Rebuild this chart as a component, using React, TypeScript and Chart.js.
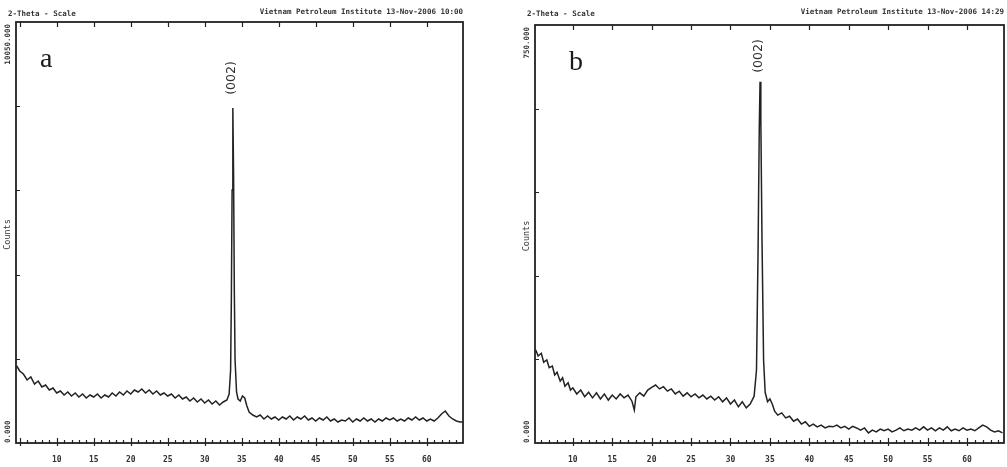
import React, { useEffect, useRef } from "react";
import { Chart, registerables } from "chart.js";
Chart.register(...registerables);

// ---- Panel a data (2-Theta in degrees, intensity in counts) ----
const thetaA = [4.6, 5.0, 5.5, 6.0, 6.5, 7.0, 7.5, 8.0, 8.5, 9.0, 9.5, 10.0, 10.5, 11.0, 11.5, 12.0, 12.5, 13.0, 13.5, 14.0, 14.5, 15.0, 15.5, 16.0, 16.5, 17.0, 17.5, 18.0, 18.5, 19.0, 19.5, 20.0, 20.5, 21.0, 21.5, 22.0, 22.5, 23.0, 23.5, 24.0, 24.5, 25.0, 25.5, 26.0, 26.5, 27.0, 27.5, 28.0, 28.5, 29.0, 29.5, 30.0, 30.5, 31.0, 31.5, 32.0, 32.5, 33.0, 33.3, 33.5, 33.6, 33.7, 33.8, 33.9, 34.0, 34.1, 34.3, 34.5, 34.8, 35.1, 35.4, 35.7, 36.0, 36.5, 37.0, 37.5, 38.0, 38.5, 39.0, 39.5, 40.0, 40.5, 41.0, 41.5, 42.0, 42.5, 43.0, 43.5, 44.0, 44.5, 45.0, 45.5, 46.0, 46.5, 47.0, 47.5, 48.0, 48.5, 49.0, 49.5, 50.0, 50.5, 51.0, 51.5, 52.0, 52.5, 53.0, 53.5, 54.0, 54.5, 55.0, 55.5, 56.0, 56.5, 57.0, 57.5, 58.0, 58.5, 59.0, 59.5, 60.0, 60.5, 61.0, 61.5, 62.0, 62.5, 63.0, 63.5, 64.0, 64.5, 64.9];
const countsA = [1838, 1719, 1647, 1504, 1575, 1408, 1480, 1337, 1384, 1265, 1313, 1194, 1241, 1146, 1217, 1122, 1194, 1098, 1170, 1074, 1146, 1098, 1170, 1074, 1146, 1098, 1194, 1122, 1217, 1146, 1241, 1170, 1265, 1217, 1289, 1194, 1265, 1170, 1241, 1146, 1194, 1122, 1170, 1074, 1146, 1050, 1098, 1003, 1074, 979, 1050, 955, 1026, 931, 1003, 907, 979, 1026, 1170, 1743, 3413, 6039, 7996, 6397, 3652, 1981, 1217, 1050, 1003, 1122, 1074, 883, 740, 668, 621, 668, 573, 644, 573, 621, 549, 621, 573, 644, 549, 621, 573, 644, 549, 597, 525, 597, 549, 621, 525, 573, 501, 549, 525, 597, 501, 573, 525, 597, 525, 573, 501, 573, 525, 597, 549, 597, 525, 573, 525, 597, 549, 621, 549, 597, 525, 573, 525, 597, 692, 764, 644, 573, 525, 501, 501];

// ---- Panel b data ----
const thetaB = [5.3, 5.6, 6.0, 6.3, 6.7, 7.0, 7.4, 7.7, 8.0, 8.4, 8.7, 9.0, 9.4, 9.7, 10.0, 10.5, 11.0, 11.5, 12.0, 12.5, 13.0, 13.5, 14.0, 14.5, 15.0, 15.5, 16.0, 16.5, 17.0, 17.5, 17.8, 18.0, 18.5, 19.0, 19.5, 20.0, 20.5, 21.0, 21.5, 22.0, 22.5, 23.0, 23.5, 24.0, 24.5, 25.0, 25.5, 26.0, 26.5, 27.0, 27.5, 28.0, 28.5, 29.0, 29.5, 30.0, 30.5, 31.0, 31.5, 32.0, 32.5, 33.0, 33.3, 33.5, 33.65, 33.75, 33.85, 34.0, 34.2, 34.4, 34.7, 35.0, 35.3, 35.6, 36.0, 36.5, 37.0, 37.5, 38.0, 38.5, 39.0, 39.5, 40.0, 40.5, 41.0, 41.5, 42.0, 42.5, 43.0, 43.5, 44.0, 44.5, 45.0, 45.5, 46.0, 46.5, 47.0, 47.5, 48.0, 48.5, 49.0, 49.5, 50.0, 50.5, 51.0, 51.5, 52.0, 52.5, 53.0, 53.5, 54.0, 54.5, 55.0, 55.5, 56.0, 56.5, 57.0, 57.5, 58.0, 58.5, 59.0, 59.5, 60.0, 60.5, 61.0, 61.5, 62.0, 62.5, 63.0, 63.5, 64.0, 64.5];
const countsB = [167, 156, 161, 145, 149, 135, 138, 122, 127, 111, 117, 102, 108, 95, 99, 88, 95, 83, 91, 81, 90, 79, 88, 77, 86, 79, 88, 81, 86, 75, 59, 83, 90, 84, 95, 100, 104, 97, 101, 93, 97, 88, 93, 84, 90, 83, 88, 81, 86, 79, 84, 77, 83, 74, 81, 70, 77, 65, 74, 63, 70, 84, 131, 346, 562, 648, 579, 364, 149, 91, 74, 79, 70, 57, 50, 54, 45, 48, 39, 43, 34, 38, 30, 34, 29, 32, 27, 30, 29, 32, 27, 30, 25, 30, 27, 23, 27, 18, 23, 20, 25, 22, 25, 20, 23, 27, 22, 25, 23, 27, 23, 29, 23, 27, 22, 27, 23, 29, 22, 25, 22, 27, 23, 25, 22, 27, 32, 29, 23, 20, 22, 18];

// ---- Axis / text content ----
const xTickLabels = [10, 15, 20, 25, 30, 35, 40, 45, 50, 55, 60];
const yMaxA = 10050;
const yMaxB = 750;
const yTopLabelA = "10050.000";
const yTopLabelB = "750.000";
const yBottomLabel = "0.000";
const yTitle = "Counts";
const xScaleTitle = "2-Theta - Scale";
const headerA = "Vietnam Petroleum Institute 13-Nov-2006 10:00";
const headerB = "Vietnam Petroleum Institute 13-Nov-2006 14:29";
const peakLabel = "(002)";
const peakThetaA = 33.8;
const peakThetaB = 33.75;

type PanelCfg = {
  theta: number[];
  counts: number[];
  xMin: number;
  xMax: number;
  yMax: number;
  yTop: string;
  header: string;
  letter: string;
  letterDx: number;
  peakTheta: number;
  peakLabelY: number;
  padding: { left: number; right: number; top: number; bottom: number };
};

const INK = "#222";
const TEXT = "#333";

function makeDecorPlugin(cfg: PanelCfg) {
  return {
    id: "xrdDecor",
    afterDraw(chart: any) {
      const ctx = chart.ctx as CanvasRenderingContext2D;
      const { left, right, top, bottom } = chart.chartArea;
      const x = chart.scales.x;
      const y = chart.scales.y;
      const W = chart.width;
      ctx.save();
      // frame
      ctx.strokeStyle = INK;
      ctx.lineWidth = 1.8;
      ctx.strokeRect(left, top, right - left, bottom - top);

      // x ticks (bottom minor+major, top major)
      ctx.lineWidth = 1.2;
      ctx.beginPath();
      for (let v = Math.ceil(x.min); v <= Math.floor(x.max); v++) {
        const px = Math.round(x.getPixelForValue(v)) + 0.5;
        const major = v % 5 === 0;
        ctx.moveTo(px, bottom - (major ? 5 : 3));
        ctx.lineTo(px, bottom + (major ? 3 : 1));
        if (major) {
          ctx.moveTo(px, top);
          ctx.lineTo(px, top + 5);
        }
      }
      // y ticks (left, inside)
      for (let i = 1; i < 5; i++) {
        const py = Math.round(y.getPixelForValue((cfg.yMax * i) / 5)) + 0.5;
        ctx.moveTo(left, py);
        ctx.lineTo(left + 4, py);
      }
      ctx.stroke();

      // x tick labels
      ctx.fillStyle = TEXT;
      ctx.font = "bold 8px 'DejaVu Sans Mono'";
      ctx.textAlign = "center";
      ctx.textBaseline = "middle";
      xTickLabels.forEach((v) => {
        ctx.fillText(String(v), x.getPixelForValue(v), bottom + 17);
      });

      // header texts
      ctx.font = "bold 7.5px 'DejaVu Sans Mono'";
      ctx.textBaseline = "alphabetic";
      ctx.textAlign = "left";
      ctx.fillText(xScaleTitle, left - 8, 16);
      ctx.textAlign = "right";
      ctx.fillText(cfg.header, Math.min(right, W - 2), 14);

      // rotated y labels
      ctx.font = "bold 7.5px 'DejaVu Sans Mono'";
      ctx.save();
      ctx.translate(left - 8, top + 2);
      ctx.rotate(-Math.PI / 2);
      ctx.textAlign = "right";
      ctx.textBaseline = "middle";
      ctx.fillText(cfg.yTop, 0, 0);
      ctx.restore();

      ctx.save();
      ctx.translate(left - 8, bottom);
      ctx.rotate(-Math.PI / 2);
      ctx.textAlign = "left";
      ctx.textBaseline = "middle";
      ctx.fillText(yBottomLabel, 0, 0);
      ctx.restore();

      ctx.save();
      ctx.font = "8.5px 'DejaVu Sans Mono'";
      ctx.translate(left - 8, (top + bottom) / 2 + 2);
      ctx.rotate(-Math.PI / 2);
      ctx.textAlign = "center";
      ctx.textBaseline = "middle";
      ctx.fillText(yTitle, 0, 0);
      ctx.restore();

      // peak label
      ctx.save();
      ctx.fillStyle = "#2e2e2e";
      ctx.font = "12.5px 'DejaVu Sans'";
      ctx.translate(x.getPixelForValue(cfg.peakTheta) - 1, cfg.peakLabelY);
      ctx.rotate(-Math.PI / 2);
      ctx.textAlign = "center";
      ctx.textBaseline = "middle";
      ctx.fillText(peakLabel, 0, 0);
      ctx.restore();

      // panel letter
      ctx.fillStyle = "#1a1a1a";
      ctx.font = "28px 'Liberation Serif'";
      ctx.textAlign = "left";
      ctx.textBaseline = "alphabetic";
      ctx.fillText(cfg.letter, left + cfg.letterDx, top + 45);

      ctx.restore();
    },
  };
}

function Panel({ cfg, left, width }: { cfg: PanelCfg; left: number; width: number }) {
  const ref = useRef<HTMLCanvasElement | null>(null);
  useEffect(() => {
    if (!ref.current) return;
    const chart = new Chart(ref.current, {
      type: "line",
      data: {
        datasets: [
          {
            data: cfg.theta.map((t, i) => ({ x: t, y: cfg.counts[i] })),
            borderColor: INK,
            borderWidth: 1.5,
            pointRadius: 0,
            tension: 0,
            fill: false,
          },
        ],
      },
      options: {
        animation: false,
        responsive: false,
        maintainAspectRatio: false,
        layout: { padding: cfg.padding },
        plugins: { legend: { display: false }, tooltip: { enabled: false }, title: { display: false } },
        scales: {
          x: { type: "linear", min: cfg.xMin, max: cfg.xMax, display: false },
          y: { type: "linear", min: 0, max: cfg.yMax, display: false },
        },
      },
      plugins: [makeDecorPlugin(cfg)],
    } as any);
    return () => chart.destroy();
  }, [cfg]);
  return (
    <canvas
      ref={ref}
      width={width}
      height={467}
      style={{ position: "absolute", left, top: 0, width, height: 467 }}
    />
  );
}

const cfgA: PanelCfg = {
  theta: thetaA,
  counts: countsA,
  xMin: 4.5,
  xMax: 64.9,
  yMax: yMaxA,
  yTop: yTopLabelA,
  header: headerA,
  letter: "a",
  letterDx: 24,
  peakTheta: peakThetaA,
  peakLabelY: 78,
  padding: { left: 16, right: 47, top: 22, bottom: 24 },
};

const cfgB: PanelCfg = {
  theta: thetaB,
  counts: countsB,
  xMin: 5.2,
  xMax: 64.7,
  yMax: yMaxB,
  yTop: yTopLabelB,
  header: headerB,
  letter: "b",
  letterDx: 34,
  peakTheta: peakThetaB,
  peakLabelY: 56,
  padding: { left: 25, right: 3, top: 25, bottom: 24 },
};

export default function App() {
  return (
    <div style={{ position: "absolute", left: 0, top: 0, width: 1007, height: 467, background: "#fff", overflow: "hidden" }}>
      <Panel cfg={cfgA} left={0} width={510} />
      <Panel cfg={cfgB} left={510} width={497} />
    </div>
  );
}
